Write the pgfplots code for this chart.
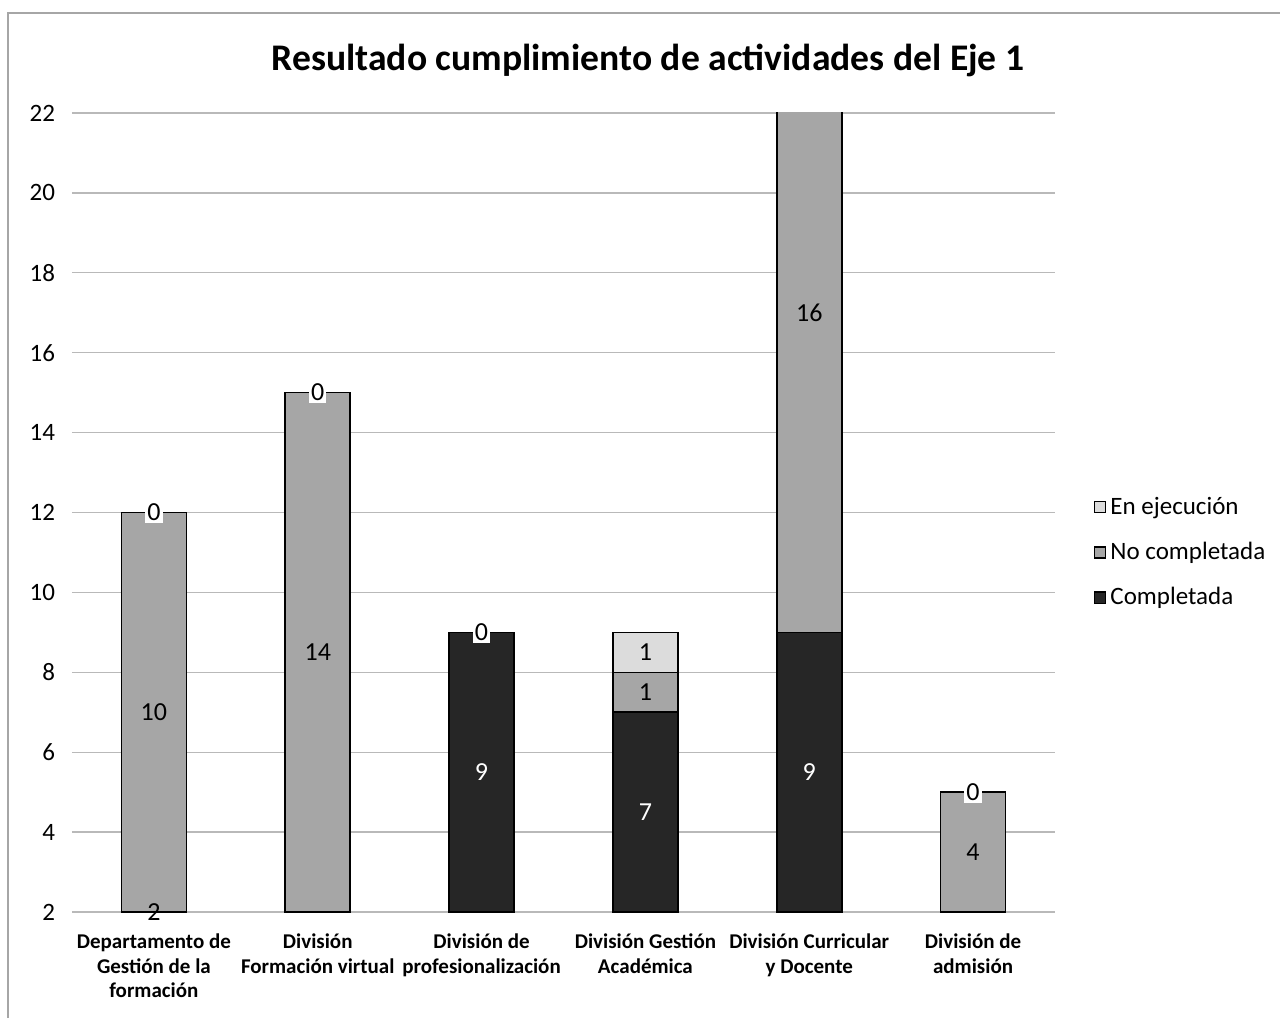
\documentclass[border=0pt]{standalone}
\usepackage{pgfplots}
\pgfplotsset{compat=1.18}
\usepackage{fontspec}
\setmainfont{Carlito}
\definecolor{cEj}{HTML}{DCDCDC}
\definecolor{cNo}{HTML}{A6A6A6}
\definecolor{cCo}{HTML}{262626}
\begin{document}
\begin{tikzpicture}[x=1pt,y=1pt]
\path[use as bounding box] (0,0) rectangle (640,509);
\draw[gray!70, line width=0.6pt] (4,0) -- (4,502.5) -- (640,502.5);
\node[font=\bfseries\fontsize{18.8}{22}\selectfont] at (324,479) {Resultado cumplimiento de actividades del Eje 1};
\begin{axis}[
  at={(36pt,53pt)}, anchor=south west,
  scale only axis, width=491.5pt, height=399.5pt,
  ybar stacked, bar width=32.5pt,
  xmin=-0.5, xmax=5.5, ymin=2, ymax=22,
  ytick={2,4,...,22},
  xtick={0,...,5},
  xticklabels={{Departamento de\\Gestión de la\\formación},{División\\Formación virtual},{División de\\profesionalización},{División Gestión\\Académica},{División Curricular\\y Docente},{División de\\admisión}},
  x tick label style={font=\bfseries\fontsize{10.5}{12.2}\selectfont, align=center, yshift=-7.5pt},
  y tick label style={font=\fontsize{12.5}{14}\selectfont, xshift=-5pt},
  /pgf/number format/assume math mode=true,
  axis line style={draw=none},
  major tick length=0pt,
  ymajorgrids, grid style={gray!55, line width=0.7pt},
  legend style={at={(1.033,0.45)}, anchor=west, draw=none, fill=none, font=\fontsize{12.5}{14}\selectfont, row sep=8.5pt},
  legend cell align=left,
  reverse legend,
  legend image code/.code={\draw[#1] (0pt,-2.8pt) rectangle (5.5pt,2.8pt);},
]
\addplot[fill=cCo, draw=black, line width=0.8pt] coordinates {(0,2)(1,1)(2,9)(3,7)(4,9)(5,1)};
\addplot[fill=cNo, draw=black, line width=0.8pt] coordinates {(0,10)(1,14)(2,0)(3,1)(4,16)(5,4)};
\addplot[fill=cEj, draw=black, line width=0.8pt] coordinates {(0,0)(1,0)(2,0)(3,1)(4,0)(5,0)};
\legend{Completada, No completada, En ejecución}
\end{axis}
\begin{axis}[
  at={(36pt,53pt)}, anchor=south west,
  scale only axis, width=491.5pt, height=399.5pt,
  xmin=-0.5, xmax=5.5, ymin=2, ymax=22,
  hide axis, clip=false,
  nodes near coords style={anchor=center, font=\fontsize{13}{15}\selectfont, inner sep=1pt},
]
\addplot[draw=none, mark=none, nodes near coords, point meta=explicit symbolic] coordinates {(0,2)[2] (0,7)[10] (1,8.5)[14] (3,7.5)[1] (3,8.5)[1] (4,17)[16] (5,3.5)[4]};
\addplot[draw=none, mark=none, nodes near coords, point meta=explicit symbolic, nodes near coords style={fill=white}] coordinates {(0,12)[0] (1,15)[0] (2,9)[0] (5,5)[0]};
\addplot[draw=none, mark=none, nodes near coords, point meta=explicit symbolic, nodes near coords style={text=white}] coordinates {(2,5.5)[9] (3,4.5)[7] (4,5.5)[9]};
\end{axis}
\end{tikzpicture}
\end{document}
